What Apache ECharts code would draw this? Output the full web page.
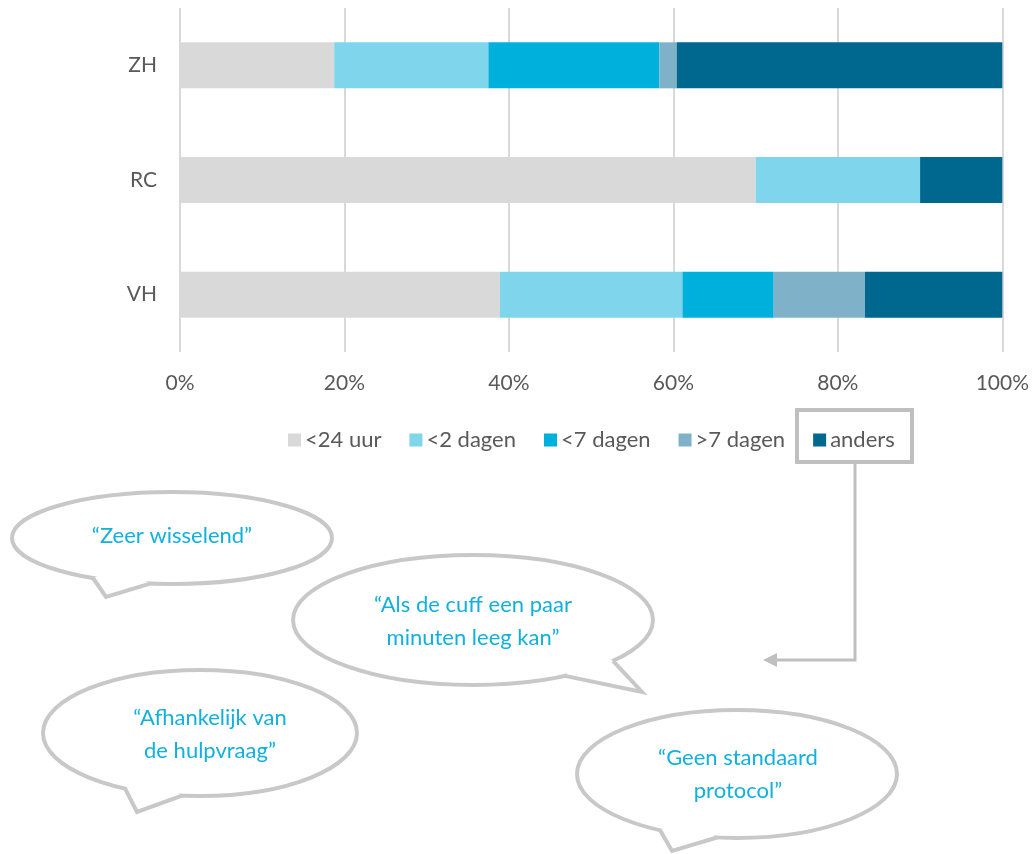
<!DOCTYPE html>
<html>
<head>
<meta charset="utf-8">
<script src="https://cdn.jsdelivr.net/npm/echarts@6/dist/echarts.min.js"></script>
<style>
  html, body { margin: 0; padding: 0; background: #fff; }
  #chart { width: 1032px; height: 854px; }
</style>
</head>
<body>
<div id="chart"></div>
<script>
// Categories, bottom to top
const categories = ['VH', 'RC', 'ZH'];
const seriesNames = ['<24 uur', '<2 dagen', '<7 dagen', '>7 dagen', 'anders'];
// Share per category (%), ordered as categories
const lt24uur = [38.9, 70.0, 18.75];
const lt2dagen = [22.2, 20.0, 18.75];
const lt7dagen = [11.1, 0, 20.8];
const gt7dagen = [11.1, 0, 2.1];
const anders = [16.7, 10.0, 39.6];
const xTicks = [0, 20, 40, 60, 80, 100];

const colors = ['#D9D9D9', '#7FD6EC', '#00B0DC', '#7FB2C8', '#00678F'];
const seriesValues = [lt24uur, lt2dagen, lt7dagen, gt7dagen, anders];

const FONT = 'Lato';
const GREY_LINE = '#C8C8C8';
const QUOTE_COLOR = '#12B0DC';

// Speech bubble: ellipse with a pointed tail; tail base points lie on the ellipse
function bubble(cx, cy, rx, ry, baseA, tip, baseB, lines, tx, ty) {
  const onEllipse = (x) => [x, cy + ry * Math.sqrt(Math.max(0, 1 - Math.pow((x - cx) / rx, 2)))];
  const a = onEllipse(baseA), b = onEllipse(baseB);
  const inner = [(a[0] + b[0]) / 2, Math.min(a[1], b[1]) - 10];
  return {
    type: 'group',
    children: [
      { type: 'ellipse', shape: { cx: cx, cy: cy, rx: rx, ry: ry },
        style: { fill: '#fff', stroke: GREY_LINE, lineWidth: 4 } },
      { type: 'polygon', shape: { points: [a, tip, b, inner] },
        style: { fill: '#fff' } },
      { type: 'polyline', shape: { points: [a, tip, b] },
        style: { stroke: GREY_LINE, lineWidth: 4, fill: null, lineJoin: 'miter' } },
      { type: 'text', x: tx, y: ty,
        style: { text: lines.join('\n'), fill: QUOTE_COLOR, font: '22px ' + FONT,
                 align: 'center', verticalAlign: 'middle', lineHeight: 33 } }
    ]
  };
}

const chart = echarts.init(document.getElementById('chart'), null, { renderer: 'canvas' });

chart.setOption({
  animation: false,
  color: colors,
  textStyle: { fontFamily: FONT },
  grid: { left: 180, right: 29, top: 8, bottom: 502, containLabel: false },
  legend: {
    data: seriesNames,
    top: 424,
    left: 283,
    itemWidth: 13,
    itemHeight: 13,
    itemGap: 28,
    icon: 'rect',
    textStyle: { color: '#595959', fontSize: 22, fontFamily: FONT, padding: [0, 0, 0, -1] }
  },
  xAxis: {
    type: 'value',
    min: xTicks[0],
    max: xTicks[xTicks.length - 1],
    interval: 20,
    axisLine: { show: false },
    axisTick: { show: false },
    splitLine: { show: true, lineStyle: { color: '#D9D9D9', width: 2 } },
    axisLabel: { color: '#595959', fontSize: 21, fontFamily: FONT, margin: 21,
                 formatter: '{value}%' }
  },
  yAxis: {
    type: 'category',
    data: categories,
    axisLine: { show: false },
    axisTick: { show: false },
    axisLabel: { color: '#595959', fontSize: 21, fontFamily: FONT, margin: 23 }
  },
  series: seriesNames.map((name, i) => ({
    name: name,
    type: 'bar',
    stack: 'total',
    barWidth: 46,
    itemStyle: { color: colors[i] },
    data: seriesValues[i]
  })),
  graphic: [
    // frame around the "anders" legend entry
    { type: 'rect', shape: { x: 797, y: 410, width: 115, height: 52 },
      style: { fill: null, stroke: '#BFBFBF', lineWidth: 4 } },
    // connector arrow
    { type: 'polyline', shape: { points: [[855, 462], [855, 660], [776, 660]] },
      style: { stroke: '#BFBFBF', lineWidth: 3, fill: null } },
    { type: 'polygon', shape: { points: [[763, 660], [777, 653], [777, 667]] },
      style: { fill: '#BFBFBF' } },
    bubble(172, 538, 160, 46, 93, [106, 597], 150, ['“Zeer wisselend”'], 172, 536),
    bubble(473, 620, 180, 65, 613, [642, 692], 565, ['“Als de cuff een paar', 'minuten leeg kan”'], 473, 621),
    bubble(200, 733, 157, 63, 125, [137, 812], 182, ['“Afhankelijk van', 'de hulpvraag”'], 210, 734),
    bubble(737, 774, 160, 64, 660, [672, 851], 717, ['“Geen standaard', 'protocol”'], 738, 774)
  ]
});
</script>
</body>
</html>
